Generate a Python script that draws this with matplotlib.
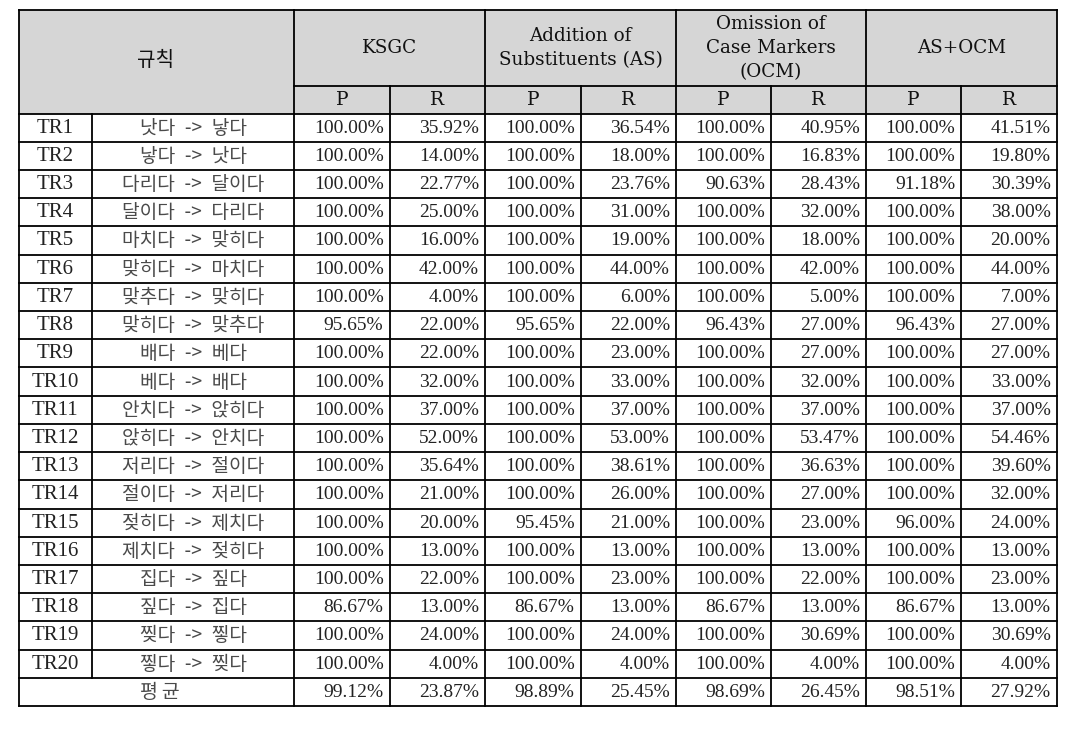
import matplotlib
matplotlib.use("Agg")
import matplotlib.pyplot as plt
from matplotlib.patches import Rectangle

# ---- data ----
rule_ids = [f"TR{i}" for i in range(1, 21)]
rules = ["낫다 -> 낳다", "낳다 -> 낫다", "다리다 -> 달이다", "달이다 -> 다리다",
         "마치다 -> 맞히다", "맞히다 -> 마치다", "맞추다 -> 맞히다", "맞히다 -> 맞추다",
         "배다 -> 베다", "베다 -> 배다", "안치다 -> 앉히다", "앉히다 -> 안치다",
         "저리다 -> 절이다", "절이다 -> 저리다", "젖히다 -> 제치다", "제치다 -> 젖히다",
         "집다 -> 짚다", "짚다 -> 집다", "찢다 -> 찧다", "찧다 -> 찢다"]
avg_label = "평균"
header_rule = "규칙"
groups = ["KSGC", "Addition of\nSubstituents (AS)", "Omission of\nCase Markers\n(OCM)", "AS+OCM"]
sub_labels = ["P", "R"]

ksgc_p = [100.00, 100.00, 100.00, 100.00, 100.00, 100.00, 100.00, 95.65, 100.00, 100.00,
          100.00, 100.00, 100.00, 100.00, 100.00, 100.00, 100.00, 86.67, 100.00, 100.00]
ksgc_r = [35.92, 14.00, 22.77, 25.00, 16.00, 42.00, 4.00, 22.00, 22.00, 32.00,
          37.00, 52.00, 35.64, 21.00, 20.00, 13.00, 22.00, 13.00, 24.00, 4.00]
as_p = [100.00, 100.00, 100.00, 100.00, 100.00, 100.00, 100.00, 95.65, 100.00, 100.00,
        100.00, 100.00, 100.00, 100.00, 95.45, 100.00, 100.00, 86.67, 100.00, 100.00]
as_r = [36.54, 18.00, 23.76, 31.00, 19.00, 44.00, 6.00, 22.00, 23.00, 33.00,
        37.00, 53.00, 38.61, 26.00, 21.00, 13.00, 23.00, 13.00, 24.00, 4.00]
ocm_p = [100.00, 100.00, 90.63, 100.00, 100.00, 100.00, 100.00, 96.43, 100.00, 100.00,
         100.00, 100.00, 100.00, 100.00, 100.00, 100.00, 100.00, 86.67, 100.00, 100.00]
ocm_r = [40.95, 16.83, 28.43, 32.00, 18.00, 42.00, 5.00, 27.00, 27.00, 32.00,
         37.00, 53.47, 36.63, 27.00, 23.00, 13.00, 22.00, 13.00, 30.69, 4.00]
asocm_p = [100.00, 100.00, 91.18, 100.00, 100.00, 100.00, 100.00, 96.43, 100.00, 100.00,
           100.00, 100.00, 100.00, 100.00, 96.00, 100.00, 100.00, 86.67, 100.00, 100.00]
asocm_r = [41.51, 19.80, 30.39, 38.00, 20.00, 44.00, 7.00, 27.00, 27.00, 33.00,
           37.00, 54.46, 39.60, 32.00, 24.00, 13.00, 23.00, 13.00, 30.69, 4.00]
averages = [99.12, 23.87, 98.89, 25.45, 98.69, 26.45, 98.51, 27.92]

value_cols = [ksgc_p, ksgc_r, as_p, as_r, ocm_p, ocm_r, asocm_p, asocm_r]

# ---- layout ----
W, H = 1067, 732
fig = plt.figure(figsize=(W / 100, H / 100), dpi=100)
ax = fig.add_axes([0, 0, 1, 1])
ax.set_xlim(0, W)
ax.set_ylim(H, 0)
ax.axis("off")

xs = [18.5, 92, 294, 389.5, 485, 580.5, 676, 771, 866, 961, 1056.5]
y_top, y_sub, y_body = 9.5, 86, 113.5
y_bottom = 706
n_rows = len(rule_ids) + 1
rh = (y_bottom - y_body) / n_rows

gray = "#d6d6d6"
lw = 1.3
serif = ["DejaVu Serif"]
num_font = ["Liberation Serif"]
kr_font = ["Noto Sans CJK KR", "DejaVu Sans"]

# header background
ax.add_patch(Rectangle((xs[0], y_top), xs[-1] - xs[0], y_body - y_top, facecolor=gray, edgecolor="none", zorder=0))

def hline(y, x0, x1):
    ax.plot([x0, x1], [y, y], color="black", lw=lw, solid_capstyle="projecting", zorder=3)

def vline(x, y0, y1):
    ax.plot([x, x], [y0, y1], color="black", lw=lw, solid_capstyle="projecting", zorder=3)

# outer box & header lines
hline(y_top, xs[0], xs[-1])
hline(y_body, xs[0], xs[-1])
hline(y_bottom, xs[0], xs[-1])
hline(y_sub, xs[2], xs[-1])
for i in range(n_rows - 1):
    hline(y_body + (i + 1) * rh, xs[0], xs[-1])
vline(xs[0], y_top, y_bottom)
vline(xs[-1], y_top, y_bottom)
vline(xs[1], y_body, y_body + (n_rows - 1) * rh)
for k in (2, 4, 6, 8):
    vline(xs[k], y_top, y_bottom)
for k in (3, 5, 7, 9):
    vline(xs[k], y_sub, y_bottom)

def kr(s):
    return s.replace(" ", "\u2002")

# header text
ax.text((xs[0] + xs[2]) / 2 - 1, (y_top + y_body) / 2 - 1, header_rule, ha="center", va="center",
        fontsize=14.5, family=kr_font, color="#111111", fontweight="medium")
for g, name in enumerate(groups):
    cx = (xs[2 + 2 * g] + xs[4 + 2 * g]) / 2
    ax.text(cx, (y_top + y_sub) / 2 + 0.5, name, ha="center", va="center", fontsize=13.2,
            family=serif, color="#111111", linespacing=1.42)
    for s, lab in enumerate(sub_labels):
        c = (xs[2 + 2 * g + s] + xs[3 + 2 * g + s]) / 2
        ax.text(c, (y_sub + y_body) / 2 + 0.5, lab, ha="center", va="center", fontsize=13.5,
                family=serif, color="#111111")

# body
for i in range(len(rule_ids)):
    cy = y_body + (i + 0.5) * rh + 0.5
    ax.text((xs[0] + xs[1]) / 2, cy, rule_ids[i], ha="center", va="center", fontsize=15,
            family=num_font, color="#222222")
    ax.text((xs[1] + xs[2]) / 2, cy, kr(rules[i]), ha="center", va="center", fontsize=13.8,
            family=kr_font, color="#4a4a4a", fontweight="light")
    for c, col in enumerate(value_cols):
        ax.text(xs[3 + c] - 6, cy, f"{col[i]:.2f}%", ha="right", va="center", fontsize=14,
                family=num_font, color="#222222")

cy = y_body + (n_rows - 0.5) * rh + 0.5
ax.text((xs[0] + xs[2]) / 2 + 4, cy, "\u2009".join(avg_label), ha="center", va="center", fontsize=14,
        family=kr_font, color="#4a4a4a", fontweight="light")
for c, v in enumerate(averages):
    ax.text(xs[3 + c] - 6, cy, f"{v:.2f}%", ha="right", va="center", fontsize=14,
            family=num_font, color="#222222")

fig.savefig("out.png", dpi=100, facecolor="white")
